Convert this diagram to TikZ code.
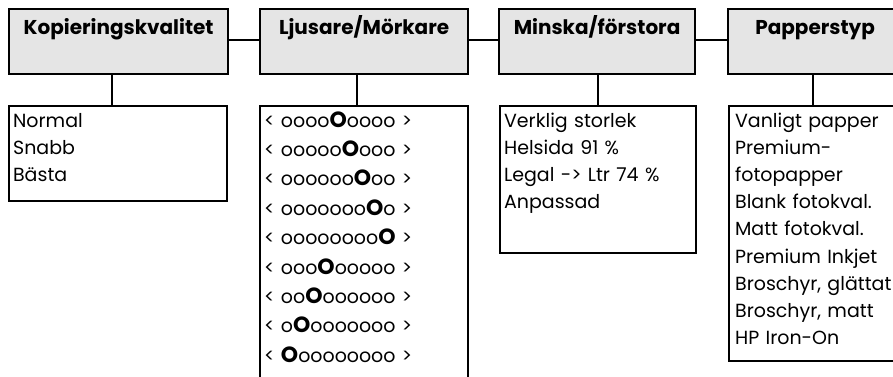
\documentclass[tikz,border=0pt]{standalone}
\usepackage{fontspec}
\setmainfont{Poppins}
\newcommand{\nivarad}[2]{< #1{\fontsize{22}{0}\selectfont\bfseries O}#2 >}
\begin{document}
\begin{tikzpicture}[x=1pt,y=-1pt,
        headbox/.style={draw, line width=2.2pt, fill=black!10, anchor=north west,
            font=\fontsize{20}{22}\selectfont\bfseries, inner ysep=6pt,
            text height=19pt, text depth=34pt},
        lowbox/.style={draw, line width=2.2pt, anchor=north west, align=left,
            font=\fontsize{19}{27.2}\selectfont, inner xsep=4pt, inner ysep=6pt,
            text height=15pt},
        link/.style={line width=2.2pt}]
    \useasboundingbox (0,0) rectangle (893,376);
    \clip (0,0) rectangle (893,376);
    \node[headbox, minimum width=219pt] (hk) at (8,8) {Kopieringskvalitet};
    \node[headbox, minimum width=208pt] (hl) at (259,8) {Ljusare/Mörkare};
    \node[headbox, minimum width=196pt] (hm) at (498,8) {Minska/förstora};
    \node[headbox, minimum width=174pt] (hp) at (727,8) {Papperstyp};
    \node[lowbox, text width=210pt, text depth=68pt] (lk) at (8,105) {Normal\\Snabb\\Bästa};
    \node[lowbox, text width=200pt, text depth=270pt,
        font=\fontsize{19}{29.4}\selectfont] (ll) at (259,105)
        {\nivarad{oooo}{oooo}\\\nivarad{ooooo}{ooo}\\\nivarad{oooooo}{oo}\\
         \nivarad{ooooooo}{o}\\\nivarad{oooooooo}{}\\\nivarad{ooo}{ooooo}\\
         \nivarad{oo}{oooooo}\\\nivarad{o}{ooooooo}\\\nivarad{}{oooooooo}};
    \node[lowbox, text width=188pt, text depth=120pt] (lm) at (499,105)
        {Verklig storlek\\Helsida 91 \%\\Legal -> Ltr 74 \%\\Anpassad};
    \node[lowbox, text width=165pt, text depth=228pt, inner xsep=6pt] (lp) at (728,105)
        {Vanligt papper\\Premium-\\fotopapper\\Blank fotokval.\\Matt fotokval.\\Premium Inkjet\\Broschyr, glättat\\Broschyr, matt\\HP Iron-On};
    \draw[link] ([yshift=1.5pt]hk.east) -- ([yshift=1.5pt]hl.west);
    \draw[link] ([yshift=1.5pt]hl.east) -- ([yshift=1.5pt]hm.west);
    \draw[link] ([yshift=1.5pt]hm.east) -- ([yshift=1.5pt]hp.west);
    \draw[link] ([xshift=-7pt]hk.south) -- ([xshift=-7pt]hk.south |- lk.north);
    \draw[link] ([xshift=-7pt]hl.south) -- ([xshift=-7pt]hl.south |- ll.north);
    \draw[link] (hm.south -| lm.north) -- (lm.north);
    \draw[link] ([xshift=-2pt]hp.south) -- ([xshift=-2pt]hp.south |- lp.north);
\end{tikzpicture}
\end{document}
